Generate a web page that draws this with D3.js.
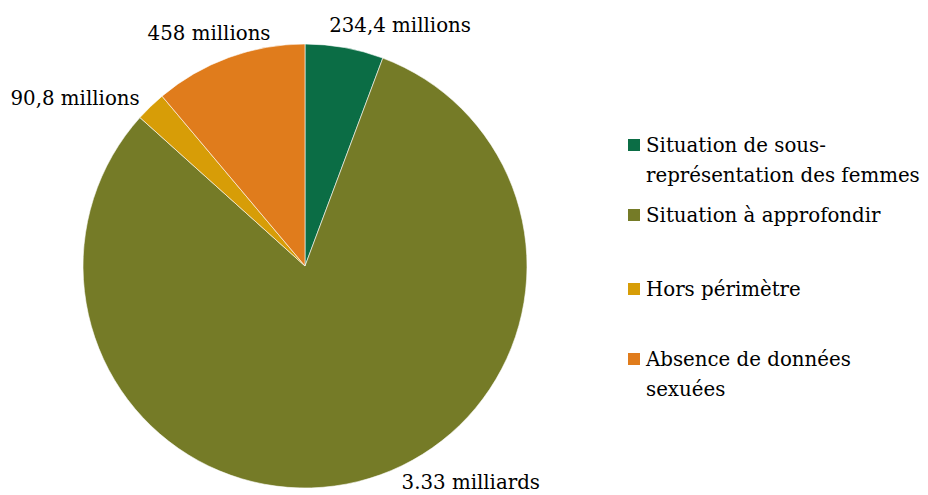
<!DOCTYPE html>
<html>
<head>
<meta charset="utf-8">
<script src="https://cdn.jsdelivr.net/npm/d3@7"></script>
<style>
  html, body { margin: 0; padding: 0; background: #ffffff; }
  svg { display: block; }
  text { font-family: "DejaVu Serif", "Liberation Serif", serif; fill: #000000; }
</style>
</head>
<body>
<svg id="chart" width="928" height="495"></svg>
<script>
// Data
const categories = [
  "Situation de sous-représentation des femmes",
  "Situation à approfondir",
  "Hors périmètre",
  "Absence de données sexuées"
];
const legendLines = [
  ["Situation de sous-", "représentation des femmes"],
  ["Situation à approfondir"],
  ["Hors périmètre"],
  ["Absence de données", "sexuées"]
];
const valuesMillions = [234.4, 3330, 90.8, 458];
const valueLabels = ["234,4 millions", "3.33 milliards", "90,8 millions", "458 millions"];
const colors = ["#0b6d45", "#757b27", "#d79d07", "#e07c1c"];

const W = 928, H = 495;
const cx = 305, cy = 266, R = 222;
const fontSize = 19.8;

const svg = d3.select("#chart");
const g = svg.append("g").attr("transform", `translate(${cx},${cy})`);

const pie = d3.pie().sort(null).value(d => d)(valuesMillions);
const arc = d3.arc().innerRadius(0).outerRadius(R);
const color = d3.scaleOrdinal().domain(d3.range(categories.length)).range(colors);

g.selectAll("path.slice")
  .data(pie)
  .join("path")
  .attr("class", "slice")
  .attr("d", arc)
  .attr("fill", (d, i) => color(i))
  .attr("stroke", "#ffffff")
  .attr("stroke-width", 0.6);

// Labels: placed just outside each slice, anchored by side (Excel best-fit style)
function labelPos(d, i) {
  const mid = (d.startAngle + d.endAngle) / 2;
  const s = Math.sin(mid), c = -Math.cos(mid);
  let x = (R + 20) * s, y = (R + 20) * c;
  let anchor = "middle";
  if (i === 0) { anchor = "middle"; x += 52; y += 4; }
  else if (i === 1) { anchor = "start"; x += 39; y -= 12.5; }
  else if (i === 2) { anchor = "end"; x += 3; y += 13; }
  else { anchor = "middle"; x -= 13; y += 1; }
  return { x, y, anchor };
}
g.selectAll("text.vlabel")
  .data(pie)
  .join("text")
  .attr("class", "vlabel")
  .each(function (d, i) {
    const p = labelPos(d, i);
    d3.select(this).attr("x", p.x).attr("y", p.y).attr("text-anchor", p.anchor);
  })
  .attr("font-size", fontSize)
  .text((d, i) => valueLabels[i]);

// Legend
const legendX = 628, legendTops = [139, 209, 283, 353];
const legend = svg.append("g");
legendLines.forEach((lines, i) => {
  const item = legend.append("g").attr("transform", `translate(${legendX},${legendTops[i]})`);
  item.append("rect").attr("width", 12).attr("height", 12).attr("fill", color(i));
  lines.forEach((ln, j) => {
    item.append("text")
      .attr("x", 18)
      .attr("y", 13 + j * 30)
      .attr("font-size", fontSize)
      .text(ln);
  });
});
</script>
</body>
</html>
